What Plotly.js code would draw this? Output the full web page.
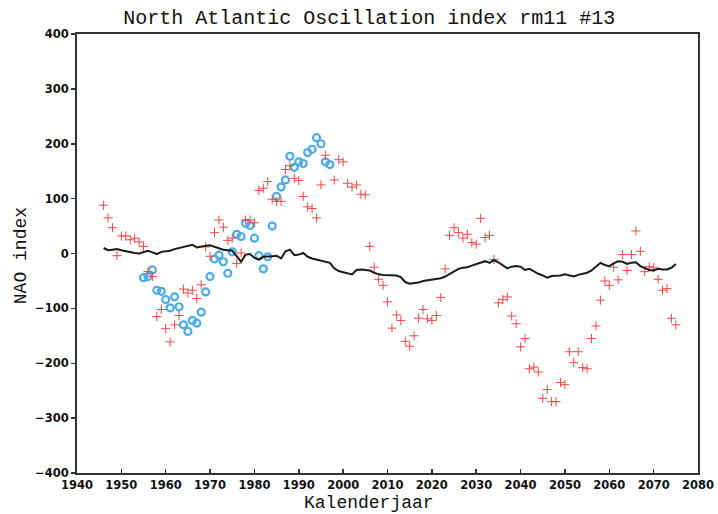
<!DOCTYPE html>
<html>
<head>
<meta charset="utf-8">
<script src="https://cdn.plot.ly/plotly-3.0.1.min.js"></script>
<style>
html,body{margin:0;padding:0;background:#fff;}
#chart{width:718px;height:514px;}
</style>
</head>
<body>
<div id="chart"></div>
<script>
// Red crosses: annual NAO index values 1946-2075 (1997 not visible)
const crossStartYear = 1946;
const crossValues = [
  88, 65, 47, -4, 32, 32, 25, 28, 21, 13,            // 1946-1955
  -33, -42, -115, -102, -137, -161, -130, -113, -65, -72, // 1956-1965
  -67, -82, -57, 12, -5, 38, 61, 48, 24, 28,          // 1966-1975
  -18, 1, 61, 61, 56, 115, 119, 131, 99, 95,          // 1976-1985
  95, 153, 160, 137, 133, 104, 85, 82, 65, 125,       // 1986-1995
  179, null, 134, 171, 167, 128, 121, 125, 108, 107,  // 1996-2005
  13, -25, -47, -58, -88, -136, -112, -122, -160, -169, // 2006-2015
  -150, -118, -102, -119, -122, -113, -80, -28, 33, 47, // 2016-2025
  38, 28, 35, 20, 17, 64, 29, 33, -11, -90,           // 2026-2035
  -84, -79, -114, -128, -170, -155, -210, -207, -216, -264, // 2036-2045
  -248, -270, -270, -235, -239, -179, -199, -179, -208, -210, // 2046-2055
  -155, -132, -85, -50, -58, -25, -48, -2, -31, -2,   // 2056-2065
  41, 4, -33, -24, -26, -47, -67, -64, -118, -130     // 2066-2075
];

// Blue circles: annual values 1955-1997
const circleStartYear = 1955;
const circleValues = [
  -44, -42, -30, -67, -69, -84, -99, -79, -97, -130,  // 1955-1964
  -142, -122, -127, -107, -70, -42, -10, -3, -15, -36, // 1965-1974
  3, 35, 31, 55, 51, 28, -4, -28, -6, 50,             // 1975-1984
  104, 121, 134, 177, 157, 167, 164, 184, 190, 211,   // 1985-1994
  200, 167, 162                                       // 1995-1997
];

// Black line: running mean (rm11), annual 1946-2075
const lineStartYear = 1946;
const lineValues = [
  10, 6, 7, 8, 6, 4, 3, 1, 0, 3,                      // 1946-1955
  5, 2, -1, 3, 4, 5, 8, 10, 12, 14,                   // 1956-1965
  16, 11, 13, 14, 15, 12, 9, 7, 6, 5,                 // 1966-1975
  -5, -15, -2, -1, -8, -11, -6, -6, -5, -4,           // 1976-1985
  -9, 4, 7, -3, -2, 1, -6, -9, -11, -13,              // 1986-1995
  -15, -17, -27, -32, -34, -36, -38, -30, -29, -30,   // 1996-2005
  -31, -35, -38, -39, -39, -40, -40, -43, -52, -55,   // 2006-2015
  -54, -53, -50, -49, -48, -47, -45, -42, -37, -32,   // 2016-2025
  -28, -26, -25, -22, -19, -17, -14, -17, -12, -16,   // 2026-2035
  -22, -27, -24, -23, -24, -30, -28, -33, -37, -40,   // 2036-2045
  -44, -41, -41, -40, -38, -40, -42, -39, -37, -35,   // 2046-2055
  -31, -24, -17, -21, -23, -18, -14, -15, -19, -17,   // 2056-2065
  -16, -23, -26, -30, -31, -28, -29, -29, -26, -19    // 2066-2075
];

const xTickVals = [1940,1950,1960,1970,1980,1990,2000,2010,2020,2030,2040,2050,2060,2070,2080];
const yTickVals = [-400,-300,-200,-100,0,100,200,300,400];

const titleText = "North Atlantic Oscillation index rm11 #13";
const xTitleText = "Kalenderjaar";
const yTitleText = "NAO index";

function yearsFrom(start, n){ const a=[]; for(let i=0;i<n;i++) a.push(start+i); return a; }

const traces = [
  {
    x: yearsFrom(circleStartYear, circleValues.length), y: circleValues,
    type: 'scatter', mode: 'markers', name: 'circles',
    marker: {symbol: 'circle-open', size: 7, color: 'rgb(75,172,235)', line: {width: 2.2, color: 'rgb(75,172,235)'}},
    hoverinfo: 'x+y'
  },
  {
    x: yearsFrom(crossStartYear, crossValues.length), y: crossValues,
    type: 'scatter', mode: 'markers', name: 'crosses',
    marker: {symbol: 'cross-thin', size: 6.5, color: 'rgb(248,70,70)', line: {width: 1, color: 'rgb(248,70,70)'}},
    hoverinfo: 'x+y'
  },
  {
    x: yearsFrom(lineStartYear, lineValues.length), y: lineValues,
    type: 'scatter', mode: 'lines', name: 'rm11',
    line: {color: '#1a1a1a', width: 2},
    hoverinfo: 'x+y'
  }
];

const tickFont = {family: 'DejaVu Sans', size: 11.5, color: '#111', weight: 'bold'};
const titleFont = {family: 'Liberation Mono', size: 20, color: '#111'};
const axisTitleFont = {family: 'Liberation Mono', size: 18, color: '#111'};

const layout = {
  width: 718, height: 514,
  margin: {l: 77, r: 20, t: 34, b: 41, pad: 0},
  paper_bgcolor: '#fff', plot_bgcolor: '#fff',
  showlegend: false,
  title: {text: titleText, font: titleFont, x: 0.4705, xref: 'paper', xanchor: 'center', y: 0.967, yref: 'container', yanchor: 'middle'},
  xaxis: {
    range: [1940, 2080], tickvals: xTickVals, ticktext: xTickVals.map(String),
    ticks: 'inside', ticklen: 4, tickwidth: 1.5, tickcolor: '#333',
    showline: true, linecolor: '#333', linewidth: 2, mirror: true,
    showgrid: false, zeroline: false, tickfont: tickFont, ticklabelstandoff: 0
  },
  yaxis: {
    range: [-400, 400], tickvals: yTickVals,
    ticks: 'outside', ticklen: 4, tickwidth: 1.5, tickcolor: '#333',
    showline: true, linecolor: '#333', linewidth: 2, mirror: true,
    showgrid: false, zeroline: false, tickfont: tickFont, ticklabelstandoff: 0
  },
  annotations: [
    {text: xTitleText, xref: 'paper', yref: 'paper', x: 0.4705, y: -0.0685, xanchor: 'center', yanchor: 'middle', showarrow: false, borderpad: 0, font: axisTitleFont},
    {text: yTitleText, xref: 'paper', yref: 'paper', x: -0.091, y: 0.495, xanchor: 'center', yanchor: 'middle', textangle: -90, showarrow: false, borderpad: 0, font: axisTitleFont}
  ]
};

Plotly.newPlot('chart', traces, layout, {displayModeBar: false, staticPlot: true});
</script>
</body>
</html>
